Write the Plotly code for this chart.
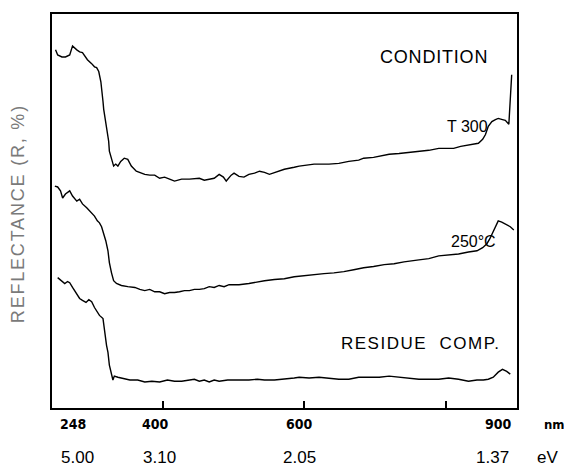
import plotly.graph_objects as go

# ---- data (wavelength in nm, reflectance in arbitrary %-offset units) ----
t300_nm = [249, 252, 258, 263, 269, 273, 279, 283, 287, 292, 294, 300, 304, 307, 310, 313, 314, 316, 317, 320,
           321, 324, 325, 328, 331, 334, 337, 341, 346, 351, 356, 363, 375, 382, 389, 396, 403, 410, 417, 427,
           438, 452, 459, 473, 480, 486, 490, 497, 501, 508, 515, 522, 530, 537, 544, 551, 558, 572, 586, 593,
           614, 635, 649, 663, 677, 684, 698, 706, 720, 734, 748, 762, 776, 790, 811, 821, 829, 839, 846, 852,
           856, 860, 865, 870, 874, 880, 884, 889, 891, 893]
t300_r = [90.9, 89.6, 89.1, 89.1, 89.6, 91.9, 90.9, 90.4, 90.2, 89.1, 88.4, 87.4, 86.6, 86.4, 85.4, 82.8, 80.3, 77.8, 75.8, 72.7,
          70.7, 67.7, 65.2, 63.1, 61.4, 61.9, 61.4, 62.6, 63.4, 63.1, 61.4, 60.1, 59.3, 59.1, 59.1, 58.3, 58.6, 58.1, 57.6, 58.1,
          58.1, 58.3, 57.8, 58.3, 59.3, 58.6, 57.6, 59.1, 59.6, 58.8, 58.6, 59.3, 59.6, 60.1, 59.8, 59.3, 59.8, 60.6, 61.1, 61.4,
          61.9, 61.9, 62.1, 62.6, 62.9, 63.4, 63.6, 63.9, 64.4, 64.6, 64.9, 65.2, 65.4, 65.9, 65.9, 66.4, 66.7, 66.9, 67.2, 68.2,
          69.4, 71.5, 72.7, 73.2, 73.5, 73.2, 73.0, 72.0, 77.8, 84.6]

c250_nm = [248, 252, 256, 259, 263, 269, 273, 279, 283, 287, 293, 297, 301, 304, 308, 311, 314, 317, 320, 323,
           325, 328, 331, 335, 342, 351, 361, 368, 375, 382, 389, 396, 403, 410, 417, 424, 431, 438, 445, 452,
           459, 466, 473, 480, 487, 494, 508, 522, 537, 544, 558, 572, 586, 600, 614, 628, 642, 656, 670, 684,
           698, 713, 727, 741, 762, 776, 790, 804, 818, 832, 844, 852, 858, 862, 866, 870, 874, 879, 884, 891, 896]
c250_r = [56.3, 56.1, 55.1, 53.3, 54.3, 55.1, 53.8, 52.5, 53.0, 51.8, 50.8, 50.0, 49.2, 48.7, 47.5, 47.0, 46.0, 44.4, 42.4, 39.9,
          36.9, 34.3, 32.3, 31.6, 31.1, 30.8, 30.6, 30.1, 29.8, 30.1, 29.5, 29.5, 29.0, 29.3, 29.3, 29.5, 29.8, 29.8, 30.1, 30.1,
          30.3, 30.8, 30.6, 31.1, 30.8, 31.3, 31.3, 31.6, 32.1, 32.3, 32.6, 32.8, 33.3, 33.6, 33.8, 34.1, 34.3, 34.6, 35.1, 35.6,
          35.9, 36.4, 36.6, 37.1, 37.6, 37.9, 38.6, 38.9, 39.1, 39.6, 39.9, 40.7, 41.7, 42.9, 44.4, 46.0, 47.5, 47.2, 46.7, 46.0, 45.2]

res_nm = [252, 258, 262, 266, 269, 273, 276, 280, 283, 287, 292, 296, 300, 304, 308, 311, 316, 318, 321, 323,
          325, 330, 332, 337, 342, 354, 365, 375, 385, 396, 407, 417, 427, 438, 445, 452, 459, 466, 473, 480,
          492, 501, 511, 522, 534, 544, 558, 572, 586, 593, 607, 621, 635, 649, 663, 677, 691, 706, 720, 734,
          748, 762, 776, 790, 804, 818, 832, 844, 853, 860, 867, 874, 880, 886, 891]
res_r = [33.1, 32.3, 31.6, 32.1, 31.8, 30.6, 29.8, 28.5, 27.8, 27.3, 26.8, 27.5, 27.0, 25.5, 24.2, 23.5, 22.7, 19.7, 15.9, 14.1,
         10.9, 7.1, 8.1, 7.8, 7.6, 7.1, 7.1, 6.6, 6.8, 6.6, 7.1, 6.8, 6.8, 7.1, 7.3, 6.8, 7.1, 6.6, 7.1, 6.8,
         7.1, 7.1, 7.1, 7.1, 7.3, 7.1, 7.1, 7.3, 7.6, 7.8, 7.6, 7.8, 7.6, 7.3, 7.3, 7.8, 7.8, 7.8, 8.1, 7.8,
         7.6, 7.3, 7.3, 7.3, 7.6, 7.3, 6.8, 7.1, 7.1, 7.3, 7.8, 9.1, 9.8, 9.3, 8.6]

nm_labels = ["248", "400", "600", "900"]
nm_label_vals = [248, 400, 600, 900]
ev_labels = ["5.00", "3.10", "2.05", "1.37"]
tick_vals = [400, 600, 800]

series_labels = ["T 300", "250°C", "RESIDUE  COMP."]

fig = go.Figure()
for xs, ys in [(t300_nm, t300_r), (c250_nm, c250_r), (res_nm, res_r)]:
    fig.add_trace(go.Scatter(x=xs, y=ys, mode="lines",
                             line=dict(color="black", width=1.4),
                             showlegend=False, hoverinfo="skip"))

narrow = "Liberation Sans Narrow, Arial Narrow, DejaVu Sans Condensed, sans-serif"
sans = "Liberation Sans, Arial, Helvetica, sans-serif"

ann = []
# curve labels
ann.append(dict(x=783, y=89.1, text='<span style="letter-spacing:0.8px">CONDITION</span>', showarrow=False,
                font=dict(family=sans, size=18, color="black")))
ann.append(dict(x=831, y=71.5, text=series_labels[0], showarrow=False,
                font=dict(family=sans, size=16, color="black")))
ann.append(dict(x=839, y=42.2, text=series_labels[1], showarrow=False,
                font=dict(family=sans, size=16, color="black")))
ann.append(dict(x=765, y=16.4, text='<span style="letter-spacing:1.5px">' + series_labels[2] + '</span>',
                showarrow=False, font=dict(family=sans, size=17, color="black")))

# nm tick labels
nm_shift = [("left", 3), ("center", -7), ("center", -5), ("right", -3)]
for lab, v, (anc, sh) in zip(nm_labels, nm_label_vals, nm_shift):
    ann.append(dict(x=v, y=0, xref="x", yref="paper", yanchor="middle", yshift=-16,
                    xanchor=anc, xshift=sh, text="<b>" + lab + "</b>", showarrow=False,
                    font=dict(family=narrow, size=14, color="black")))
ann.append(dict(x=1, y=0, xref="paper", yref="paper", yanchor="middle", yshift=-16,
                xanchor="center", xshift=37, text="<b>nm</b>", showarrow=False,
                font=dict(family=narrow, size=13, color="black")))

# eV labels
ev_shift = [("left", 4), ("center", -3), ("center", -5), ("center", -24)]
for lab, v, (anc, sh) in zip(ev_labels, nm_label_vals, ev_shift):
    ann.append(dict(x=v, y=0, xref="x", yref="paper", yanchor="middle", yshift=-49,
                    xanchor=anc, xshift=sh, text=lab, showarrow=False,
                    font=dict(family=sans, size=17, color="black")))
ann.append(dict(x=1, y=0, xref="paper", yref="paper", yanchor="middle", yshift=-49,
                xanchor="center", xshift=30, text="eV", showarrow=False,
                font=dict(family=sans, size=17, color="black")))

# y-axis title
ann.append(dict(x=0, y=0.492, xref="paper", yref="paper", xanchor="center", yanchor="middle",
                xshift=-34, textangle=-90, showarrow=False,
                text='<span style="letter-spacing:1.8px">REFLECTANCE (R, %)</span>',
                font=dict(family=sans, size=18, color="#7a7a7a")))

fig.update_layout(
    width=564, height=470,
    margin=dict(l=52, r=47, t=12, b=62),
    paper_bgcolor="white", plot_bgcolor="white",
    annotations=ann,
    xaxis=dict(range=[244, 900.5], showgrid=False, zeroline=False,
               showline=True, linecolor="black", linewidth=1.6, mirror=True,
               tickvals=tick_vals, ticks="inside", ticklen=7, tickcolor="black", tickwidth=1.5,
               showticklabels=False),
    yaxis=dict(range=[0, 100], showgrid=False, zeroline=False,
               showline=True, linecolor="black", linewidth=1.6, mirror=True,
               showticklabels=False, ticks=""),
)

fig.write_html("out.html", config={"displayModeBar": False},
               post_script="document.body.style.margin='0';document.body.style.padding='0';")
